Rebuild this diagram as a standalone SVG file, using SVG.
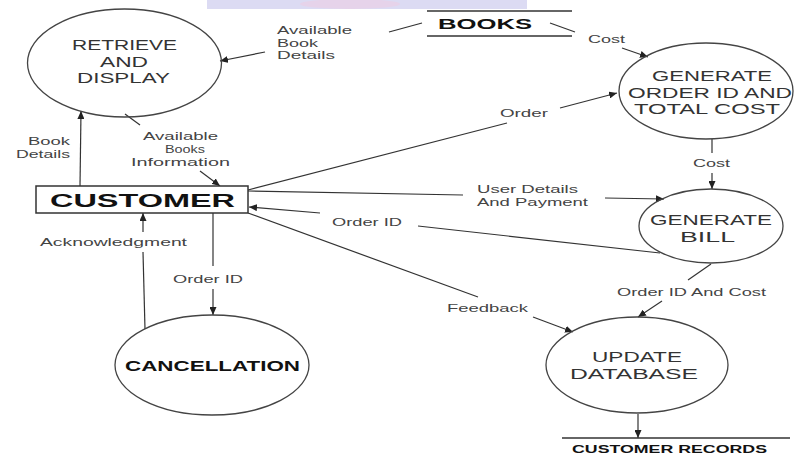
<svg xmlns="http://www.w3.org/2000/svg" width="795" height="459" viewBox="0 0 795 459">
<style>
.bg{fill:#ffffff}
.node{fill:none;stroke:#444;stroke-width:1.3}
.box{fill:#fff;stroke:#333;stroke-width:1.5}
.store{stroke:#333;stroke-width:1.3}
.c{fill:none;stroke:#333;stroke-width:1.2}
.a{fill:none;stroke:#333;stroke-width:1.2;marker-end:url(#ah)}
.lbl{font-family:"Liberation Sans",Arial,sans-serif;font-size:11px;fill:#444}
.nt{font-family:"Liberation Sans",Arial,sans-serif;font-size:15px;fill:#333}
.bt{font-family:"Liberation Sans",Arial,sans-serif;font-weight:bold;fill:#111}
</style>
<defs>
<marker id="ah" markerUnits="userSpaceOnUse" markerWidth="9" markerHeight="7" refX="8" refY="3.5" orient="auto">
<path d="M0,0 L8,3.5 L0,7 z" fill="#222"/>
</marker>
</defs>
<rect class="bg" x="0" y="0" width="795" height="459"/>
<g id="watermark">
<rect x="207" y="0" width="320" height="9" fill="#dcdbf3"/>
<ellipse cx="350" cy="4" rx="50" ry="5" fill="#e6d3ea"/>
</g>

<g id="connectors">
<line class="c" x1="422" y1="23" x2="389" y2="32"/>
<line class="a" x1="265" y1="52" x2="220" y2="61"/>
<line class="c" x1="550" y1="23" x2="575" y2="32"/>
<line class="a" x1="622" y1="48" x2="648" y2="57"/>
<line class="c" x1="248" y1="190" x2="507" y2="123"/>
<line class="a" x1="560" y1="108" x2="617" y2="93"/>
<line class="c" x1="712" y1="139" x2="712" y2="153"/>
<line class="a" x1="712" y1="173" x2="712" y2="189"/>
<line class="c" x1="248" y1="191" x2="463" y2="195"/>
<line class="a" x1="605" y1="198" x2="664" y2="199"/>
<line class="c" x1="660" y1="253" x2="418" y2="226"/>
<line class="a" x1="320" y1="213" x2="249" y2="207"/>
<line class="c" x1="248" y1="213" x2="478" y2="297"/>
<line class="a" x1="533" y1="317" x2="573" y2="332"/>
<line class="c" x1="711" y1="264" x2="688" y2="280"/>
<line class="a" x1="662" y1="301" x2="638" y2="317"/>
<line class="a" x1="638" y1="414" x2="638" y2="438"/>
<line class="c" x1="125" y1="114" x2="140" y2="125"/>
<line class="a" x1="200" y1="171" x2="220" y2="186"/>
<line class="a" x1="80" y1="186" x2="81" y2="111"/>
<line class="c" x1="145" y1="329" x2="143" y2="252"/>
<line class="a" x1="143" y1="232" x2="143" y2="213"/>
<line class="c" x1="213" y1="213" x2="213" y2="266"/>
<line class="a" x1="213" y1="289" x2="213" y2="315"/>
</g>

<g id="labels">
<text class="lbl" x="277" y="34" textLength="75" lengthAdjust="spacingAndGlyphs">Available</text>
<text class="lbl" x="277" y="47" textLength="41" lengthAdjust="spacingAndGlyphs">Book</text>
<text class="lbl" x="277" y="59" textLength="58" lengthAdjust="spacingAndGlyphs">Details</text>
<text class="lbl" x="588" y="43" textLength="37" lengthAdjust="spacingAndGlyphs">Cost</text>
<text class="lbl" x="500" y="117" textLength="48" lengthAdjust="spacingAndGlyphs">Order</text>
<text class="lbl" x="28" y="145" textLength="42" lengthAdjust="spacingAndGlyphs">Book</text>
<text class="lbl" x="16" y="158" textLength="54" lengthAdjust="spacingAndGlyphs">Details</text>
<text class="lbl" x="143" y="140" textLength="75" lengthAdjust="spacingAndGlyphs">Available</text>
<text class="lbl" x="165" y="153" textLength="40" lengthAdjust="spacingAndGlyphs">Books</text>
<text class="lbl" x="131" y="166" textLength="99" lengthAdjust="spacingAndGlyphs">Information</text>
<text class="lbl" x="477" y="193" textLength="101" lengthAdjust="spacingAndGlyphs">User Details</text>
<text class="lbl" x="477" y="206" textLength="111" lengthAdjust="spacingAndGlyphs">And Payment</text>
<text class="lbl" x="693" y="167" textLength="37" lengthAdjust="spacingAndGlyphs">Cost</text>
<text class="lbl" x="332" y="226" textLength="70" lengthAdjust="spacingAndGlyphs">Order ID</text>
<text class="lbl" x="40" y="246" textLength="147" lengthAdjust="spacingAndGlyphs">Acknowledgment</text>
<text class="lbl" x="173" y="283" textLength="70" lengthAdjust="spacingAndGlyphs">Order ID</text>
<text class="lbl" x="617" y="296" textLength="149" lengthAdjust="spacingAndGlyphs">Order ID And Cost</text>
<text class="lbl" x="447" y="312" textLength="81" lengthAdjust="spacingAndGlyphs">Feedback</text>
</g>

<g id="retrieve">
<ellipse class="node" cx="124.5" cy="63" rx="97" ry="54"/>
<text class="nt" x="72" y="50" textLength="105" lengthAdjust="spacingAndGlyphs">RETRIEVE</text>
<text class="nt" x="100" y="67" textLength="48" lengthAdjust="spacingAndGlyphs">AND</text>
<text class="nt" x="77" y="83" textLength="93" lengthAdjust="spacingAndGlyphs">DISPLAY</text>
</g>

<g id="books">
<line class="store" x1="427" y1="11" x2="572" y2="11"/>
<line class="store" x1="427" y1="36" x2="572" y2="36"/>
<text class="bt" x="438" y="29" font-size="15" textLength="94" lengthAdjust="spacingAndGlyphs">BOOKS</text>
</g>

<g id="generate-order">
<ellipse class="node" cx="706" cy="91" rx="87" ry="48"/>
<text class="nt" x="652" y="81" textLength="120" lengthAdjust="spacingAndGlyphs">GENERATE</text>
<text class="nt" x="628" y="98" textLength="164" lengthAdjust="spacingAndGlyphs">ORDER ID AND</text>
<text class="nt" x="634" y="114" textLength="146" lengthAdjust="spacingAndGlyphs">TOTAL COST</text>
</g>

<g id="customer">
<rect class="box" x="36" y="186" width="212" height="27"/>
<text class="bt" x="50" y="207" font-size="18" textLength="185" lengthAdjust="spacingAndGlyphs">CUSTOMER</text>
</g>

<g id="generate-bill">
<ellipse class="node" cx="711" cy="226" rx="72" ry="37"/>
<text class="nt" x="650" y="225" textLength="122" lengthAdjust="spacingAndGlyphs">GENERATE</text>
<text class="nt" x="680" y="242" textLength="55" lengthAdjust="spacingAndGlyphs">BILL</text>
</g>

<g id="cancellation">
<ellipse class="node" cx="212" cy="365" rx="97" ry="50"/>
<text class="bt" x="125" y="371" font-size="15" textLength="175" lengthAdjust="spacingAndGlyphs">CANCELLATION</text>
</g>

<g id="update-database">
<ellipse class="node" cx="637" cy="365" rx="91" ry="48"/>
<text class="nt" x="592" y="362" textLength="90" lengthAdjust="spacingAndGlyphs">UPDATE</text>
<text class="nt" x="570" y="379" textLength="128" lengthAdjust="spacingAndGlyphs">DATABASE</text>
</g>

<g id="customer-records">
<line class="store" x1="562" y1="438" x2="790" y2="438"/>
<text class="bt" x="572" y="453" font-size="11" textLength="195" lengthAdjust="spacingAndGlyphs">CUSTOMER RECORDS</text>
</g>
</svg>
